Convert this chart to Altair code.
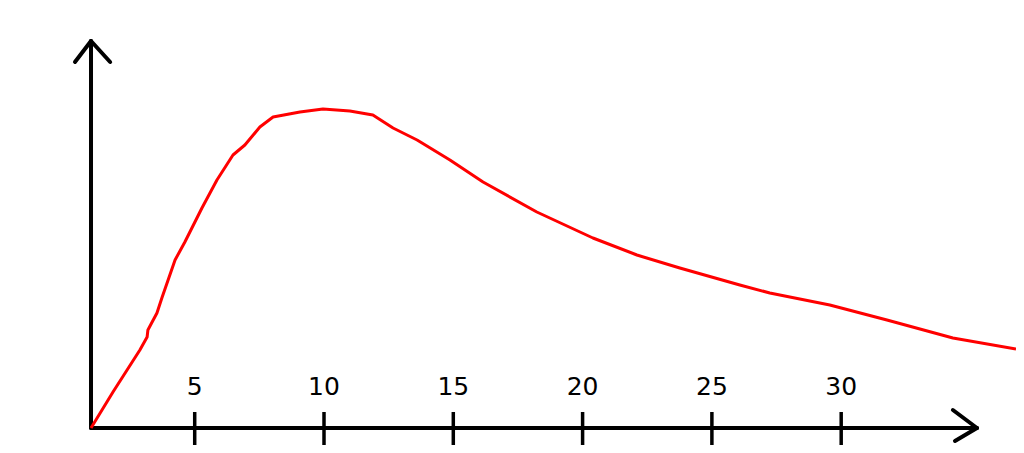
import altair as alt
import pandas as pd

# Hand-drawn curve (x in tick units, y in arbitrary units)
curve_x = [0.99, 1.84, 2.88, 3.16, 3.19, 3.54, 3.73, 4.24, 4.62, 5.28, 5.86, 6.48,
           6.94, 7.52, 8.03, 9.07, 9.96, 11.0, 11.89, 12.67, 13.60, 14.87, 16.15,
           18.23, 20.40, 22.10, 23.76, 26.08, 27.24, 29.56, 31.77, 34.32, 36.76]
curve_y = [0, 9.0, 19.5, 22.75, 24.5, 28.75, 32.5, 42, 46.5, 55, 62, 68.25,
           70.75, 75.25, 77.75, 79, 79.75, 79.25, 78.25, 75, 72, 67, 61.5,
           54, 47.5, 43.25, 40, 35.75, 33.75, 30.75, 27, 22.5, 19.75]

tick_values = [5, 10, 15, 20, 25, 30]
tick_labels = ["5", "10", "15", "20", "25", "30"]

# Axis lines and arrowheads (segments in data units)
seg_x1 = [0.99, 0.99, 0.99, 0.99, 35.25, 35.25]
seg_y1 = [0, 0, 96.75, 96.75, 0, 0]
seg_x2 = [35.25, 0.99, 0.37, 1.73, 34.32, 34.40]
seg_y2 = [0, 96.75, 91.5, 91.5, 4.5, -3.25]

X_DOMAIN = [-2.22, 36.76]
Y_DOMAIN = [-4.25, 105]

xs = alt.Scale(domain=X_DOMAIN, nice=False, zero=False)
ys = alt.Scale(domain=Y_DOMAIN, nice=False, zero=False)

curve_df = pd.DataFrame({"x": curve_x, "y": curve_y})
tick_df = pd.DataFrame({"x": tick_values, "label": tick_labels,
                        "ylo": [-4.75] * len(tick_values), "yhi": [4] * len(tick_values),
                        "ylab": [10.25] * len(tick_values)})
seg_df = pd.DataFrame({"x": seg_x1, "y": seg_y1, "x2": seg_x2, "y2": seg_y2})

axes = alt.Chart(seg_df).mark_rule(color="black", strokeWidth=4, strokeCap="round").encode(
    x=alt.X("x:Q", scale=xs, axis=None),
    y=alt.Y("y:Q", scale=ys, axis=None),
    x2="x2:Q",
    y2="y2:Q",
)

ticks = alt.Chart(tick_df).mark_rule(color="black", strokeWidth=3.5).encode(
    x=alt.X("x:Q", scale=xs, axis=None),
    y=alt.Y("ylo:Q", scale=ys, axis=None),
    y2="yhi:Q",
)

labels = alt.Chart(tick_df).mark_text(
    color="black", fontSize=25, font="DejaVu Sans", baseline="middle", align="center"
).encode(
    x=alt.X("x:Q", scale=xs, axis=None),
    y=alt.Y("ylab:Q", scale=ys, axis=None),
    text="label:N",
)

curve = alt.Chart(curve_df).mark_line(color="#ff0000", strokeWidth=3, interpolate="linear",
                                      strokeJoin="round").encode(
    x=alt.X("x:Q", scale=xs, axis=None),
    y=alt.Y("y:Q", scale=ys, axis=None),
)

chart = alt.layer(axes, ticks, labels, curve).properties(
    width=1008, height=437, padding=0, autosize=alt.AutoSizeParams(type="none"),
    background="white",
).configure_view(stroke=None)

chart.save("out.html", embed_options={"renderer": "svg", "actions": False})
